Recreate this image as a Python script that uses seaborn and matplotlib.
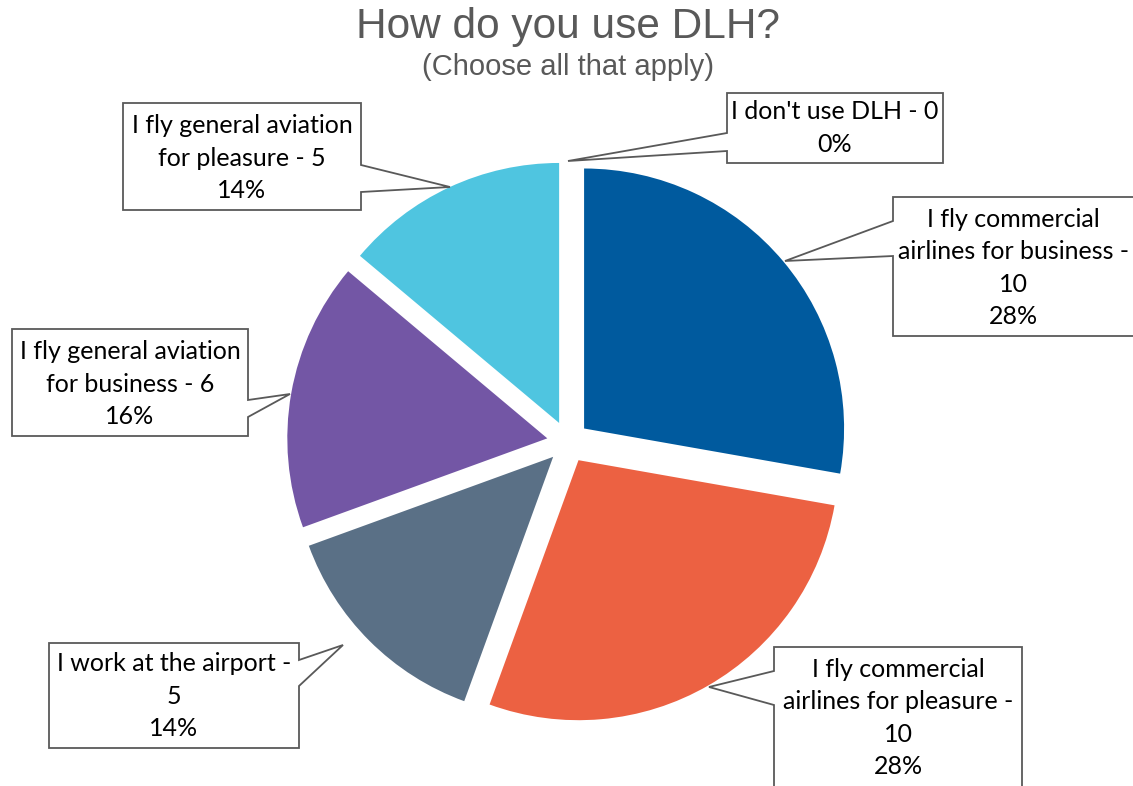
import matplotlib.pyplot as plt
import seaborn as sns
from matplotlib.patches import Polygon

# data
labels = ["I fly commercial airlines for business", "I fly commercial airlines for pleasure",
          "I work at the airport", "I fly general aviation for business",
          "I fly general aviation for pleasure", "I don't use DLH"]
counts = [10, 10, 5, 6, 5, 0]
percents = ["28%", "28%", "14%", "16%", "14%", "0%"]
label_lines = ["I fly commercial\nairlines for business -\n10",
               "I fly commercial\nairlines for pleasure -\n10",
               "I work at the airport -\n5",
               "I fly general aviation\nfor business - 6",
               "I fly general aviation\nfor pleasure - 5",
               "I don't use DLH - 0"]
colors = ["#005a9e", "#ec6142", "#5a7086", "#7356a5", "#4fc5e0", "#a5a5a5"]

sns.set_theme(style="white")
plt.rcParams['font.family'] = ['Lato', 'DejaVu Sans']

W, H = 1133, 786
fig = plt.figure(figsize=(W / 100, H / 100), dpi=100)

# pie axes, y up
ax = fig.add_axes([0, 0, 1, 1])
ax.pie(counts, colors=colors, startangle=90, counterclock=False,
       explode=[21] * len(counts), center=(568, H - 442), radius=260,
       wedgeprops=dict(linewidth=0))
ax.set_xlim(0, W)
ax.set_ylim(0, H)
ax.axis('off')

# overlay axes in image pixel coords (y down) for titles and callouts
ov = fig.add_axes([0, 0, 1, 1])
ov.set_xlim(0, W)
ov.set_ylim(H, 0)
ov.axis('off')
ov.patch.set_alpha(0)

ov.text(568, 27, "How do you use DLH?", ha='center', va='center', fontsize=30.5,
        color='#595959', family=['Liberation Sans', 'DejaVu Sans'])
ov.text(568, 67, "(Choose all that apply)", ha='center', va='center', fontsize=21,
        color='#595959', family=['Liberation Sans', 'DejaVu Sans'])

# callout boxes: (x0, y0, x1, y1), wedge side, wedge base y's, tip, text centre
callouts = [
    ((893, 197, 1140, 336), 'left', (221, 256), (785, 261), (1013, 268)),
    ((774, 647, 1022, 800), 'left', (671, 705), (709, 687), (898, 718)),
    ((49, 643, 299, 748), 'right', (660, 686), (343, 645), (174, 696)),
    ((12, 329, 248, 436), 'right', (400, 417), (290, 394), (130, 384)),
    ((123, 103, 361, 210), 'right', (165, 192), (450, 187), (242, 158)),
    ((727, 93, 943, 163), 'left', (133, 151), (568, 161), (835, 128)),
]

for i, (box, side, base, tip, tc) in enumerate(callouts):
    x0, y0, x1, y1 = box
    if side == 'left':
        pts = [(x0, y0), (x1, y0), (x1, y1), (x0, y1), (x0, base[1]), tip, (x0, base[0])]
    else:
        pts = [(x0, y0), (x1, y0), (x1, base[0]), tip, (x1, base[1]), (x1, y1), (x0, y1)]
    ov.add_patch(Polygon(pts, closed=True, facecolor='white', edgecolor='#595959', linewidth=1.3))
    ov.text(tc[0], tc[1], label_lines[i] + "\n" + percents[i], ha='center', va='center',
            fontsize=18, color='black', linespacing=1.5)

plt.savefig('out.png', dpi=100)
